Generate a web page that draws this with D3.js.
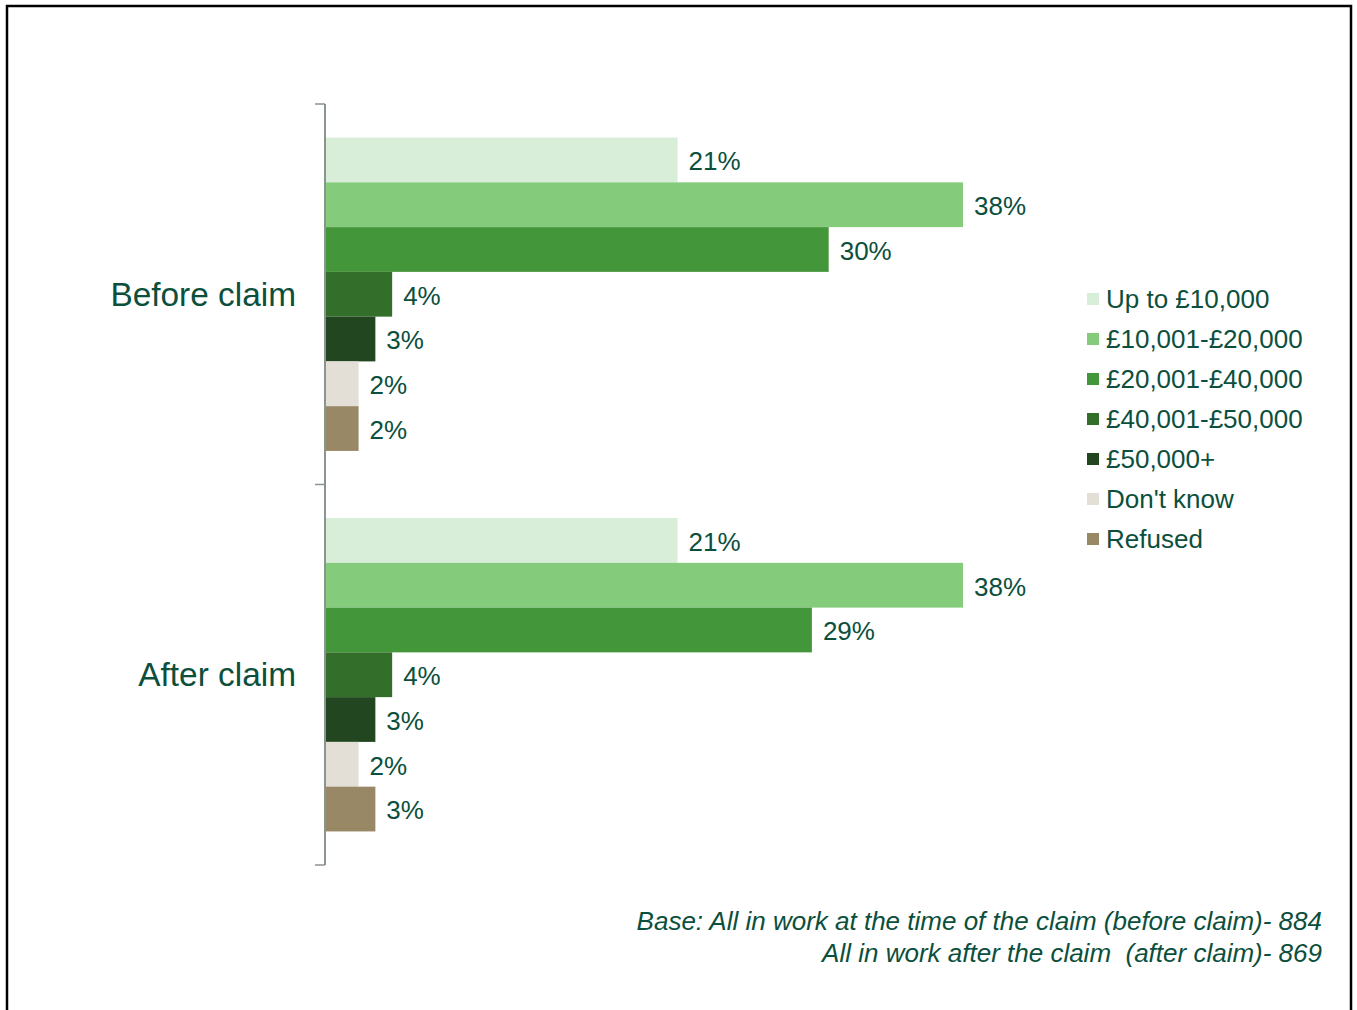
<!DOCTYPE html>
<html>
<head>
<meta charset="utf-8">
<script src="https://cdn.jsdelivr.net/npm/d3@7"></script>
<style>
  html, body { margin: 0; padding: 0; background: #fff; }
  svg { display: block; }
  .foot { white-space: pre; }
</style>
</head>
<body>
<script>
// Income bands before and after the claim (% of respondents in work)
const groups = ["Before claim", "After claim"];
const bands = ["Up to £10,000", "£10,001-£20,000", "£20,001-£40,000", "£40,001-£50,000", "£50,000+", "Don't know", "Refused"];
const beforeValues = [21, 38, 30, 4, 3, 2, 2];
const afterValues = [21, 38, 29, 4, 3, 2, 3];
const bandColors = ["#d8eed8", "#84cc7c", "#43963a", "#336e2b", "#22461f", "#e3ded6", "#988865"];
const footnoteLines = [
  "Base: All in work at the time of the claim (before claim)- 884",
  "All in work after the claim  (after claim)- 869"
];

const seriesByGroup = [beforeValues, afterValues];
const W = 1357, H = 1010;
const textColor = "#0b4f3c";
const font = "'Liberation Sans', Arial, sans-serif";

const svg = d3.select("body").append("svg").attr("width", W).attr("height", H);

// frame
svg.append("rect").attr("x", 7).attr("y", 6).attr("width", 1344).attr("height", 1010)
  .attr("fill", "none").attr("stroke", "#000").attr("stroke-width", 2.5);

const x0 = 325;
const x = d3.scaleLinear().domain([0, 38]).range([x0, 963]);
const y = d3.scaleBand().domain(groups).range([104, 865]).paddingInner(0).paddingOuter(0);
const yInner = d3.scaleBand().domain(bands).range([0, y.bandwidth()]).paddingOuter(0.75).paddingInner(0);

// bars
const g = svg.append("g");
groups.forEach((grp, gi) => {
  const vals = seriesByGroup[gi];
  const gg = g.append("g").attr("transform", `translate(0,${y(grp)})`);
  gg.selectAll("rect").data(bands).join("rect")
    .attr("x", x(0))
    .attr("y", d => yInner(d))
    .attr("width", (d, i) => x(vals[i]) - x(0))
    .attr("height", yInner.bandwidth())
    .attr("fill", (d, i) => bandColors[i]);
  gg.selectAll("text").data(bands).join("text")
    .attr("x", (d, i) => x(vals[i]) + 11)
    .attr("y", d => yInner(d) + yInner.bandwidth() / 2)
    .attr("dy", "0.4em")
    .attr("font-family", font)
    .attr("font-size", 26)
    .attr("fill", textColor)
    .text((d, i) => vals[i] + "%");
});

// category axis: boundaries between groups
const axisG = svg.append("g").attr("transform", `translate(${x0},0)`);
axisG.append("line").attr("x1", 0).attr("x2", 0).attr("y1", 104).attr("y2", 865)
  .attr("stroke", "#8a9590").attr("stroke-width", 2);
const boundaries = [y.range()[0], ...groups.map(gr => y(gr) + y.bandwidth())];
axisG.selectAll("line.tick").data(boundaries).join("line").attr("class", "tick")
  .attr("x1", -10).attr("x2", 0).attr("y1", d => d).attr("y2", d => d)
  .attr("stroke", "#8a9590").attr("stroke-width", 1.5);
axisG.selectAll("text").data(groups).join("text")
  .attr("x", -29)
  .attr("y", d => y(d) + y.bandwidth() / 2)
  .attr("dy", "0.35em")
  .attr("text-anchor", "end")
  .attr("font-family", font)
  .attr("font-size", 33.4)
  .attr("fill", textColor)
  .text(d => d);

// legend
const legend = svg.append("g").attr("transform", "translate(1087,299)");
const li = legend.selectAll("g").data(bands).join("g")
  .attr("transform", (d, i) => `translate(0,${i * 40})`);
li.append("rect").attr("x", 0).attr("y", -6).attr("width", 12).attr("height", 12)
  .attr("fill", (d, i) => bandColors[i]);
li.append("text").attr("x", 19).attr("y", 0).attr("dy", "0.35em")
  .attr("font-family", font).attr("font-size", 26).attr("fill", textColor)
  .text(d => d);

// footnote
svg.append("g").selectAll("text").data(footnoteLines).join("text")
  .attr("class", "foot")
  .attr("x", 1322)
  .attr("y", (d, i) => 930 + i * 32)
  .attr("text-anchor", "end")
  .attr("font-family", "'Liberation Sans Narrow', 'Arial Narrow', sans-serif")
  .attr("font-style", "italic")
  .attr("font-size", 26)
  .attr("fill", textColor)
  .text(d => d);
</script>
</body>
</html>
